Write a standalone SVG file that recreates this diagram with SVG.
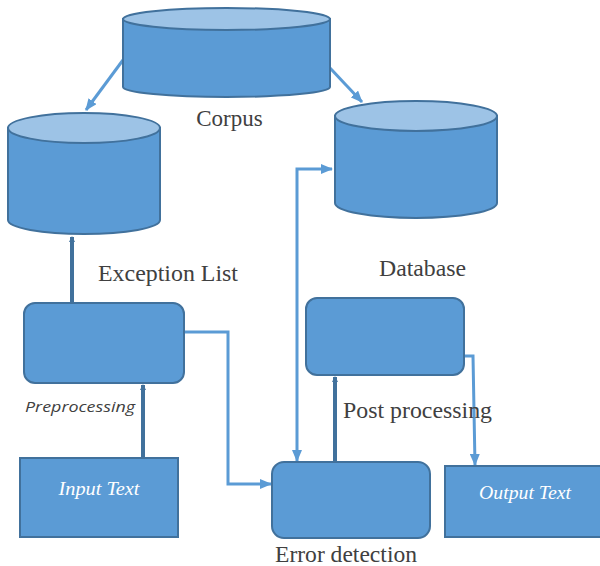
<svg xmlns="http://www.w3.org/2000/svg" width="600" height="566" viewBox="0 0 600 566">
<style>
.body{fill:#5B9BD5;stroke:#41719C;stroke-width:2}
.top{fill:#9DC3E6;stroke:#41719C;stroke-width:2}
.box{fill:#5B9BD5;stroke:#41719C;stroke-width:2}
.lab{font-family:"Liberation Serif",serif;font-size:23px;fill:#404040}
.inner{font-family:"Liberation Serif",serif;font-style:italic;font-size:19px;fill:#ffffff}
.pre{font-family:"Open Sans",sans-serif;font-style:italic;font-size:15px;fill:#404040}
.lc{fill:none;stroke:#5B9BD5;stroke-width:3}
.dc{fill:none;stroke:#41719C;stroke-width:4}
</style>
<defs>
<marker id="la" markerUnits="userSpaceOnUse" viewBox="0 0 12 10" refX="11" refY="5" markerWidth="12" markerHeight="10" orient="auto-start-reverse">
<path d="M0,0 L12,5 L0,10 z" fill="#5B9BD5"/>
</marker>
<marker id="da" markerUnits="userSpaceOnUse" viewBox="0 0 6 6" refX="5" refY="3" markerWidth="6" markerHeight="6" orient="auto">
<path d="M0,0 L6,3 L0,6 z" fill="#41719C"/>
</marker>
</defs>

<g id="connectors">
<line class="lc" x1="123" y1="60" x2="86" y2="110" marker-end="url(#la)"/>
<line class="lc" x1="330" y1="68" x2="362" y2="102" marker-end="url(#la)"/>
<line class="dc" x1="72" y1="304" x2="72" y2="237" marker-end="url(#da)"/>
<line class="dc" x1="143" y1="458" x2="143" y2="385" marker-end="url(#da)"/>
<line class="dc" x1="335" y1="462" x2="335" y2="377" marker-end="url(#da)"/>
<polyline class="lc" points="185,332 228,332 228,484 271,484" marker-end="url(#la)"/>
<polyline class="lc" points="464,356 473,356 475,465" marker-end="url(#la)"/>
<polyline class="lc" points="297,461 297,169 332,169" marker-end="url(#la)" marker-start="url(#la)"/>
</g>

<g id="corpus">
<path class="body" d="M123,19 V87 A103.5,10 0 0 0 330,87 V19 Z"/>
<ellipse class="top" cx="226.5" cy="19" rx="103.5" ry="11"/>
<text class="lab" x="229.5" y="126" text-anchor="middle">Corpus</text>
</g>

<g id="exception-list">
<path class="body" d="M8,128 V220 A76,14 0 0 0 160,220 V128 Z"/>
<ellipse class="top" cx="84" cy="128" rx="76" ry="15"/>
<text class="lab" x="98" y="281" textLength="140" lengthAdjust="spacingAndGlyphs">Exception List</text>
</g>

<g id="database">
<path class="body" d="M335,116 V203 A81,15 0 0 0 497,203 V116 Z"/>
<ellipse class="top" cx="416" cy="116" rx="81" ry="15"/>
<text class="lab" x="379" y="276" textLength="87" lengthAdjust="spacingAndGlyphs">Database</text>
</g>

<g id="preprocessing">
<rect class="box" x="24" y="303" width="160" height="80" rx="11"/>
<text class="pre" x="25" y="412" textLength="110" lengthAdjust="spacingAndGlyphs">Preprocessing</text>
</g>

<g id="input-text">
<rect class="box" x="20" y="458" width="158" height="79"/>
<text class="inner" x="99" y="495" text-anchor="middle" textLength="81" lengthAdjust="spacingAndGlyphs">Input Text</text>
</g>

<g id="post-processing">
<rect class="box" x="306" y="298" width="158" height="77" rx="11"/>
<text class="lab" x="343" y="418" textLength="149" lengthAdjust="spacingAndGlyphs">Post processing</text>
</g>

<g id="error-detection">
<rect class="box" x="272" y="462" width="158" height="76" rx="12"/>
<text class="lab" x="275" y="562" textLength="142" lengthAdjust="spacingAndGlyphs">Error detection</text>
</g>

<g id="output-text">
<rect class="box" x="445" y="466" width="160" height="71"/>
<text class="inner" x="525" y="499" text-anchor="middle" textLength="92" lengthAdjust="spacingAndGlyphs">Output Text</text>
</g>
</svg>
